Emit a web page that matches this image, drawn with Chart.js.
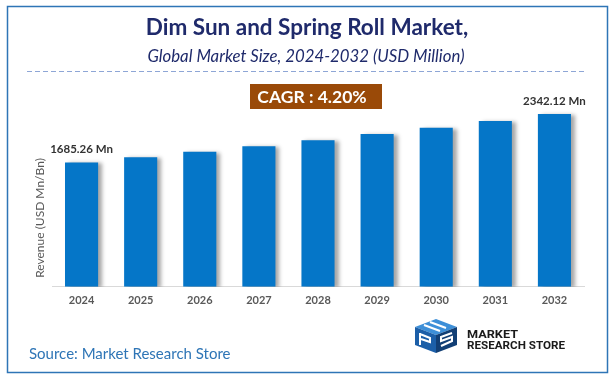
<!DOCTYPE html>
<html>
<head>
<meta charset="utf-8">
<script src="https://cdn.jsdelivr.net/npm/chart.js@4"></script>
<style>
  html, body { margin: 0; padding: 0; background: #fff; }
  #wrap { width: 616px; height: 380px; position: relative; }
</style>
</head>
<body>
<div id="wrap"><canvas id="marketChart" width="616" height="380"></canvas></div>
<script>
// chart data
const years = ['2024', '2025', '2026', '2027', '2028', '2029', '2030', '2031', '2032'];
const revenue = [1685.26, 1756.0, 1829.8, 1906.6, 1986.7, 2070.2, 2157.1, 2247.7, 2342.12];
const valueLabels = ['1685.26 Mn', '', '', '', '', '', '', '', '2342.12 Mn'];
const cagrText = 'CAGR : 4.20%';

const FONT = 'Lato, "Open Sans", sans-serif';

// shadow behind the bars
const barShadow = {
    id: 'barShadow',
    beforeDatasetDraw(chart) {
        const ctx = chart.ctx;
        ctx.save();
        ctx.shadowColor = 'rgba(0,0,0,0.35)';
        ctx.shadowBlur = 4;
        ctx.shadowOffsetX = 4;
        ctx.shadowOffsetY = 1;
    },
    afterDatasetDraw(chart) {
        chart.ctx.restore();
    }
};

function drawLogo(ctx) {
    // simple isometric block
    ctx.save();
    ctx.fillStyle = '#3d8fd8';
    ctx.beginPath();
    ctx.moveTo(415, 327); ctx.lineTo(436, 319); ctx.lineTo(457, 327); ctx.lineTo(436, 335);
    ctx.closePath(); ctx.fill();
    ctx.fillStyle = '#1c5fa8';
    ctx.beginPath();
    ctx.moveTo(415, 327); ctx.lineTo(436, 335); ctx.lineTo(436, 353); ctx.lineTo(415, 345);
    ctx.closePath(); ctx.fill();
    ctx.fillStyle = '#123f75';
    ctx.beginPath();
    ctx.moveTo(436, 335); ctx.lineTo(457, 327); ctx.lineTo(457, 345); ctx.lineTo(436, 353);
    ctx.closePath(); ctx.fill();
    // white strokes hinting at the letters
    ctx.strokeStyle = '#ffffff';
    ctx.lineWidth = 2;
    ctx.beginPath();
    ctx.moveTo(424, 325); ctx.lineTo(440, 331);
    ctx.moveTo(430, 322); ctx.lineTo(446, 328);
    ctx.moveTo(420, 333); ctx.lineTo(420, 345);
    ctx.moveTo(420, 334); ctx.lineTo(430, 338); ctx.lineTo(430, 342); ctx.lineTo(421, 339);
    ctx.moveTo(452, 333); ctx.lineTo(441, 337); ctx.lineTo(441, 341); ctx.lineTo(452, 337); ctx.lineTo(452, 341); ctx.lineTo(441, 346);
    ctx.stroke();
    // wordmark
    ctx.fillStyle = '#1a1a1a';
    ctx.textAlign = 'left';
    ctx.textBaseline = 'alphabetic';
    ctx.font = 'bold 11px Roboto, sans-serif';
    const fit = (t, x, y, w) => {
        const m = ctx.measureText(t).width;
        ctx.save();
        ctx.translate(x, y);
        ctx.scale(w / m, 1);
        ctx.fillText(t, 0, 0);
        ctx.restore();
    };
    fit('MARKET', 467, 338, 51);
    fit('RESEARCH STORE', 467, 349, 98);
    ctx.restore();
}

const decor = {
    id: 'decor',
    beforeDraw(chart) {
        const ctx = chart.ctx;
        ctx.save();
        ctx.fillStyle = '#ffffff';
        ctx.fillRect(0, 0, chart.width, chart.height);
        ctx.restore();
    },
    afterDraw(chart) {
        const ctx = chart.ctx;
        ctx.save();
        // frame
        ctx.strokeStyle = '#2e75b6';
        ctx.lineWidth = 1.5;
        ctx.strokeRect(7.5, 6.5, 600, 366);

        // titles
        ctx.textAlign = 'center';
        ctx.textBaseline = 'middle';
        ctx.fillStyle = '#1f2a6b';
        ctx.font = 'bold 22.5px ' + FONT;
        ctx.fillText('Dim Sun and Spring Roll Market,', 307, 28);
        ctx.font = 'italic 16.8px ' + FONT;
        ctx.fillText('Global Market Size, 2024-2032 (USD Million)', 306, 57);

        // dashed rule
        ctx.strokeStyle = '#8ea6d6';
        ctx.lineWidth = 1;
        ctx.setLineDash([5, 3]);
        ctx.beginPath();
        ctx.moveTo(27, 71.5);
        ctx.lineTo(587, 71.5);
        ctx.stroke();
        ctx.setLineDash([]);

        // CAGR box
        ctx.fillStyle = '#9a4a08';
        ctx.fillRect(250, 84, 132, 25);
        ctx.fillStyle = '#ffffff';
        ctx.font = 'bold 17.5px ' + FONT;
        ctx.fillText(cagrText, 312, 97);

        // value labels above bars
        const meta = chart.getDatasetMeta(0);
        ctx.fillStyle = '#333333';
        ctx.font = 'bold 11.5px ' + FONT;
        meta.data.forEach((bar, i) => {
            if (valueLabels[i]) {
                ctx.fillText(valueLabels[i], bar.x, bar.y - 13);
            }
        });

        // y axis title
        ctx.save();
        ctx.translate(40, 218);
        ctx.rotate(-Math.PI / 2);
        ctx.fillStyle = '#595959';
        ctx.font = '12px ' + FONT;
        ctx.fillText('Revenue (USD Mn/Bn)', 0, 0);
        ctx.restore();

        // source
        ctx.textAlign = 'left';
        ctx.fillStyle = '#2e75b6';
        ctx.font = '15px ' + FONT;
        ctx.fillText('Source: Market Research Store', 29, 354);

        drawLogo(ctx);
        ctx.restore();
    }
};

new Chart(document.getElementById('marketChart').getContext('2d'), {
    type: 'bar',
    data: {
        labels: years,
        datasets: [{
            data: revenue,
            backgroundColor: '#0576c8',
            borderWidth: 0,
            barPercentage: 0.56,
            categoryPercentage: 1
        }]
    },
    options: {
        responsive: false,
        animation: false,
        layout: { padding: { top: 95, left: 52, right: 32, bottom: 66 } },
        plugins: {
            legend: { display: false },
            tooltip: { enabled: false }
        },
        scales: {
            x: {
                grid: { display: false, drawTicks: false },
                border: { display: true, color: '#d9d9d9', width: 1 },
                ticks: {
                    padding: 7,
                    color: '#595959',
                    font: { family: FONT, size: 11, weight: 'bold' }
                }
            },
            y: {
                display: false,
                min: 0,
                max: 2600
            }
        }
    },
    plugins: [decor, barShadow]
});
</script>
</body>
</html>
